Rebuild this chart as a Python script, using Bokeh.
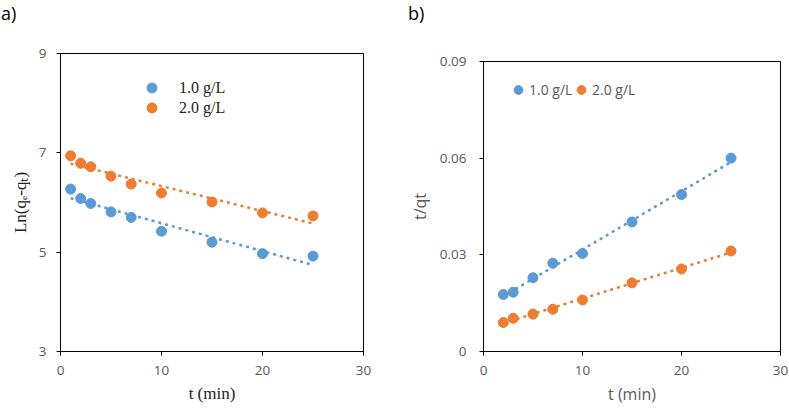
import numpy as np
from bokeh.plotting import figure
from bokeh.layouts import row, column
from bokeh.models import FixedTicker, Legend, LegendItem, Div
from bokeh.embed import file_html
from bokeh.resources import INLINE

# ---- data ----
t_a = [1, 2, 3, 5, 7, 10, 15, 20, 25]
ln_1g = [6.27, 6.08, 5.98, 5.81, 5.70, 5.42, 5.20, 4.97, 4.92]
ln_2g = [6.94, 6.79, 6.72, 6.53, 6.37, 6.19, 6.01, 5.79, 5.73]

t_b = [2, 3, 5, 7, 10, 15, 20, 25]
tq_1g = [0.0177, 0.0184, 0.0229, 0.0274, 0.0304, 0.0402, 0.0487, 0.0600]
tq_2g = [0.0090, 0.0103, 0.0116, 0.0131, 0.0160, 0.0213, 0.0256, 0.0312]

labels = ["1.0 g/L", "2.0 g/L"]
x_ticks = [0, 10, 20, 30]
ya_ticks = [3, 5, 7, 9]
yb_ticks = [0, 0.03, 0.06, 0.09]
yb_tick_labels = ["0", "0.03", "0.06", "0.09"]

BLUE = "#5B9BD5"
ORANGE = "#ED7D31"
GREY = "#595959"
SANS = "Open Sans"
SERIF = "Liberation Serif"

HEAD = 26
H = 409 - HEAD


def style(p, tick_standoff):
    for ax in (p.xaxis, p.yaxis):
        ax.axis_line_color = "black"
        ax.major_tick_line_color = "black"
        ax.major_tick_out = 4
        ax.major_tick_in = 0
        ax.minor_tick_line_color = None
        ax.major_label_text_color = GREY
        ax.major_label_text_font = SANS
        ax.major_label_text_font_size = "13.5px"
    p.xaxis.major_label_standoff = 10
    p.yaxis.major_label_standoff = tick_standoff
    p.xgrid.grid_line_color = None
    p.ygrid.grid_line_color = None
    p.outline_line_color = "black"
    p.outline_line_alpha = 1
    p.xaxis.ticker = FixedTicker(ticks=x_ticks)


def trend(x, y):
    k, b = np.polyfit(x, y, 1)
    xs = np.array([x[0], x[-1]], dtype=float)
    return xs, k * xs + b


def head(text, width, pad_left):
    return Div(text=text, width=width, height=HEAD, margin=0,
               styles={"font-family": SANS, "font-size": "18px",
                       "color": "black", "line-height": "18px",
                       "padding-top": "4px", "padding-left": f"{pad_left}px",
                       "box-sizing": "border-box"})


def one_item_legend(label, renderer, loc, gw, standoff, font, size, color):
    return Legend(items=[LegendItem(label=label, renderers=[renderer])],
                  location=loc, orientation="horizontal",
                  glyph_width=gw, glyph_height=25, label_standoff=standoff,
                  padding=0, margin=0, border_line_color=None,
                  background_fill_alpha=0,
                  label_text_font=font, label_text_font_size=size,
                  label_text_color=color)


# ---- panel a ----
pa = figure(width=400, height=H, x_range=(0, 30), y_range=(3, 9),
            output_backend="svg", toolbar_location=None,
            min_border_left=60, min_border_right=37,
            min_border_top=53 - HEAD, min_border_bottom=58)
style(pa, 10)
pa.yaxis.ticker = FixedTicker(ticks=ya_ticks)
pa.xaxis.axis_label = "t (min)"
pa.yaxis.axis_label = "Ln(qₑ-qₜ)"
for ax in (pa.xaxis, pa.yaxis):
    ax.axis_label_text_font = SERIF
    ax.axis_label_text_font_style = "normal"
    ax.axis_label_text_font_size = "17px"
    ax.axis_label_text_color = "#222222"
pa.xaxis.axis_label_standoff = 6
pa.yaxis.axis_label_standoff = 6

a_locs = [(79, 251), (79, 231)]
for y, c, lab, loc in zip((ln_1g, ln_2g), (BLUE, ORANGE), labels, a_locs):
    xs, ys = trend(t_a, y)
    pa.line(xs, ys, line_color=c, line_width=2.5, line_dash="3 4")
    r = pa.scatter(t_a, y, size=10, fill_color=c, line_color=c)
    pa.add_layout(one_item_legend(lab, r, loc, 25, 15, SERIF, "16px",
                                  "#222222"), "center")

# ---- panel b ----
pb = figure(width=389, height=H, x_range=(0, 30), y_range=(0, 0.09),
            output_backend="svg", toolbar_location=None,
            min_border_left=83, min_border_right=9,
            min_border_top=61 - HEAD, min_border_bottom=58)
style(pb, 13)
pb.yaxis.ticker = FixedTicker(ticks=yb_ticks)
pb.yaxis.major_label_overrides = {v: s for v, s in zip(yb_ticks, yb_tick_labels)}
pb.xaxis.axis_label = "t (min)"
pb.yaxis.axis_label = "t/qt"
for ax in (pb.xaxis, pb.yaxis):
    ax.axis_label_text_font = SANS
    ax.axis_label_text_font_style = "normal"
    ax.axis_label_text_font_size = "16px"
    ax.axis_label_text_color = GREY
pb.xaxis.axis_label_standoff = 5
pb.yaxis.axis_label_standoff = 6

b_locs = [(24, 249), (87, 249)]
for y, c, lab, loc in zip((tq_1g, tq_2g), (BLUE, ORANGE), labels, b_locs):
    xs, ys = trend(t_b, y)
    pb.line(xs, ys, line_color=c, line_width=2.5, line_dash="3 4")
    r = pb.scatter(t_b, y, size=10, fill_color=c, line_color=c)
    pb.add_layout(one_item_legend(lab, r, loc, 22, 0, SANS, "14px", GREY),
                  "center")

layout = row(column(head("a)", 400, 1), pa, spacing=0),
             column(head("b)", 389, 8), pb, spacing=0), spacing=0)
open("out.html", "w").write(file_html(layout, INLINE))
